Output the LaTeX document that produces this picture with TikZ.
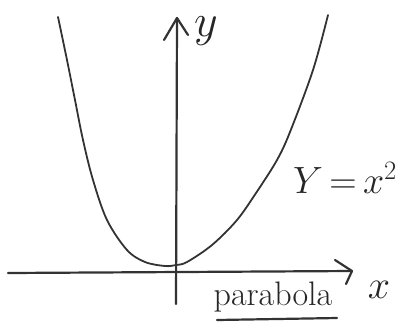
\RequirePackage{fix-cm}
\documentclass[tikz,border=0pt]{standalone}
\usepackage{amsmath,amssymb}
\usepackage{tikz}
\usepackage{xcolor}

\tikzset{
  pencil/.style={line width=2.2pt, black!80, line cap=round, line join=round},
  hand/.style={black!85, inner sep=0pt}
}

\begin{document}
\begin{tikzpicture}[x=1pt, y=-1pt]
    \useasboundingbox (0,0) rectangle (403,325);

    % Axis
    \coordinate (xstart) at (8,273);
    \coordinate (xtip) at (352,271);
    \coordinate (xbarbup) at (335,260);
    \coordinate (xbarbdown) at (346,284);
    \coordinate (ybot) at (176,304);
    \coordinate (ytip) at (177,18);
    \coordinate (ybarbleft) at (164,40);
    \coordinate (ybarbright) at (188,35);
    \draw[pencil] (xstart) -- (xtip);
    \draw[pencil] (xbarbup) -- (xtip) -- (xbarbdown);
    \draw[pencil] (ybot) -- (ytip);
    \draw[pencil] (ybarbleft) -- (ytip) -- (ybarbright);
    \node[hand] (xlabel) at (379,290) {\fontsize{40}{44}\selectfont $x$};
    \node[hand] (ylabel) at (206,31) {\fontsize{46}{50}\selectfont $y$};

    % Parabola
    \draw[pencil, line width=1.8pt] plot[smooth, tension=0.55] coordinates {
        (58,17) (67,60) (75,100) (83,140) (93,180) (107,220) (127,250)
        (145,262) (165,266) (176,265) (187,262) (212,245) (237,220)
        (258,190) (277,160) (290,132) (313,70) (328,15)};

    % Label
    \node[hand] (eqn) at (345,178) {\fontsize{38}{42}\selectfont $Y\,{=}\,x^2$};
    \node[hand, anchor=base] (name) at (273,305) {\fontsize{34}{38}\selectfont parabola};
    \coordinate (ulstart) at (217,320);
    \coordinate (ulend) at (337,318);
    \draw[pencil] (ulstart) -- (ulend);
\end{tikzpicture}
\end{document}
